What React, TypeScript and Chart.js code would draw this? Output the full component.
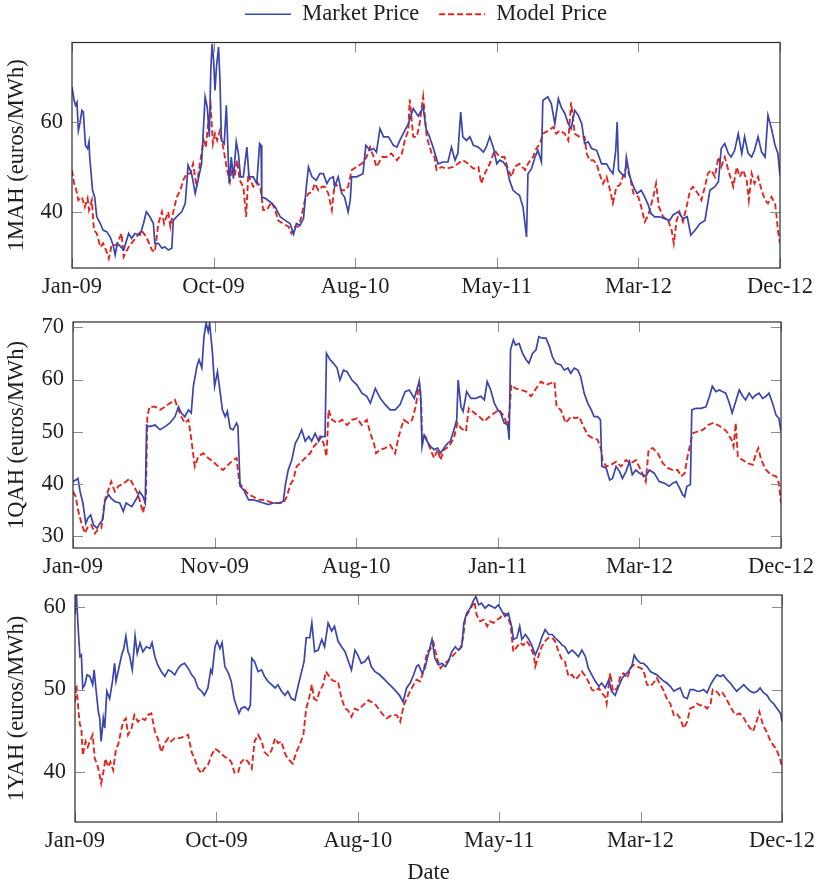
import React, { useEffect, useRef } from 'react';
import { Chart, registerables } from 'chart.js';

Chart.register(...registerables);

// ---------- data (x = trading-day index 0..1000, Jan-09 .. Dec-12) ----------
const X_TICKS = [0, 200, 400, 600, 800, 1000];
const X_LABELS_MAH = ['Jan-09', 'Oct-09', 'Aug-10', 'May-11', 'Mar-12', 'Dec-12'];
const X_LABELS_QAH = ['Jan-09', 'Nov-09', 'Aug-10', 'Jan-11', 'Mar-12', 'Dec-12'];
const X_LABELS_YAH = ['Jan-09', 'Oct-09', 'Aug-10', 'May-11', 'Mar-12', 'Dec-12'];
const Y_TICKS_MAH = [40, 60];
const Y_TICKS_QAH = [30, 40, 50, 60, 70];
const Y_TICKS_YAH = [40, 50, 60];
const SERIES_LABELS = ['Market Price', 'Model Price'];
const Y_TITLES = ['1MAH (euros/MWh)', '1QAH (euros/MWh)', '1YAH (euros/MWh)'];
const X_TITLE = 'Date';

type Pt = [number, number];

const mahMarket: Pt[] = [[0,67.8],[3,64.8],[5,63.7],[7,64.4],[9,58.1],[11,59.6],[14,62.6],[16,62.2],[19,54.8],[22,54.1],[24,55.6],[25,52.2],[29,44.8],[32,43.3],[35,38.9],[40,37.4],[44,35.9],[49,35.6],[54,34.4],[58,32.6],[61,30.4],[64,33.0],[69,32.2],[73,31.5],[80,35.2],[84,34.1],[89,35.2],[96,34.8],[101,37.4],[105,40.0],[110,38.9],[115,37.4],[117,33.0],[122,33.0],[127,31.9],[131,32.2],[136,31.5],[141,31.9],[143,38.1],[150,39.3],[155,40.0],[160,41.9],[164,50.4],[169,48.5],[174,44.1],[178,47.0],[183,50.7],[188,65.6],[191,63.3],[194,56.7],[196,71.5],[198,77.4],[200,73.7],[202,67.0],[204,72.2],[207,76.7],[209,69.3],[211,55.9],[215,55.2],[218,63.7],[222,46.3],[225,52.2],[228,47.4],[232,55.6],[235,53.0],[238,47.8],[242,47.8],[247,54.4],[250,47.8],[256,47.8],[261,46.3],[265,55.2],[267,54.8],[268,43.3],[273,43.0],[280,42.2],[287,41.1],[294,38.9],[301,38.1],[308,37.4],[313,35.0],[317,37.4],[322,37.0],[327,38.5],[331,45.6],[334,50.0],[339,47.8],[345,47.0],[350,48.5],[355,48.5],[360,46.3],[364,47.4],[369,47.8],[371,45.6],[376,47.8],[381,44.1],[385,43.3],[390,40.0],[393,42.6],[395,47.8],[402,47.8],[411,48.5],[415,54.8],[421,53.7],[426,54.1],[430,53.3],[435,58.5],[440,56.7],[447,56.7],[454,54.8],[459,54.4],[463,55.9],[470,58.1],[475,59.6],[482,63.0],[489,61.3],[496,63.3],[500,58.5],[505,56.7],[510,54.4],[517,50.7],[524,51.1],[531,51.1],[536,54.4],[541,51.5],[545,53.0],[549,62.2],[552,56.7],[557,55.9],[562,56.7],[567,54.8],[574,54.4],[581,53.3],[585,54.4],[590,56.7],[595,54.4],[600,50.7],[604,51.5],[609,51.1],[614,50.0],[618,47.0],[623,44.8],[628,44.1],[632,43.7],[637,41.1],[642,34.4],[644,48.5],[649,49.6],[654,52.2],[658,53.7],[663,51.1],[665,64.8],[672,65.6],[677,64.1],[682,59.6],[687,65.2],[691,63.3],[696,61.9],[701,59.6],[705,58.5],[710,62.6],[715,61.5],[720,59.6],[724,55.2],[729,55.6],[734,54.1],[741,53.7],[748,50.7],[755,50.7],[760,49.3],[764,48.5],[768,53.7],[770,60.0],[772,49.3],[776,48.5],[781,47.8],[783,52.2],[788,47.8],[793,45.6],[798,44.1],[804,44.8],[809,43.3],[814,41.5],[818,39.6],[823,38.9],[830,38.9],[837,38.5],[844,38.1],[849,39.3],[856,40.0],[863,38.5],[869,38.9],[874,34.8],[880,35.9],[887,37.4],[894,38.1],[901,44.8],[908,45.6],[913,46.7],[917,54.1],[922,55.2],[927,53.0],[931,52.2],[936,53.7],[941,57.4],[946,53.0],[950,56.7],[955,53.0],[960,52.2],[964,53.7],[969,56.7],[974,53.3],[979,52.2],[983,61.5],[988,58.5],[993,54.8],[997,53.0],[1000,48.1]];

const mahModel: Pt[] = [[0,49.3],[3,46.3],[5,45.6],[9,42.6],[14,43.3],[18,41.1],[22,43.0],[24,40.4],[28,42.6],[31,35.9],[35,35.2],[40,32.2],[44,33.0],[49,31.1],[52,29.6],[56,32.6],[63,32.6],[70,35.2],[73,30.0],[80,32.2],[84,33.0],[91,34.4],[98,35.9],[105,34.4],[113,31.5],[117,31.1],[122,37.4],[127,40.0],[130,37.4],[136,40.0],[139,36.7],[143,40.0],[148,43.3],[153,44.8],[157,47.0],[162,48.5],[167,48.5],[171,50.7],[176,45.6],[181,51.1],[186,55.9],[189,54.4],[193,60.7],[196,63.3],[199,55.2],[202,57.4],[205,55.9],[209,58.1],[213,54.8],[216,52.2],[219,49.3],[223,46.7],[226,50.0],[230,48.1],[233,51.5],[237,47.0],[242,45.6],[246,38.9],[249,48.5],[252,47.0],[256,45.6],[261,46.7],[266,45.6],[270,40.4],[275,40.4],[282,42.2],[287,40.4],[291,38.1],[298,37.4],[306,36.7],[310,35.2],[315,36.7],[320,36.7],[324,38.9],[329,42.6],[334,44.1],[339,44.4],[343,46.3],[348,44.8],[353,45.6],[357,45.6],[362,44.1],[367,40.4],[371,46.3],[376,45.6],[381,44.8],[386,44.8],[390,45.6],[395,49.3],[402,50.0],[409,50.7],[416,52.2],[421,54.4],[426,52.2],[430,50.0],[438,52.2],[444,52.2],[451,53.0],[459,51.5],[466,53.0],[470,55.9],[475,58.1],[477,65.0],[482,56.7],[487,56.7],[491,59.6],[496,65.6],[501,56.7],[508,53.0],[512,52.2],[515,49.3],[522,50.0],[529,49.6],[538,50.0],[545,50.7],[552,51.5],[560,50.7],[567,49.6],[574,50.0],[578,46.3],[583,48.5],[590,50.7],[597,53.7],[604,52.2],[611,52.2],[616,49.3],[621,47.8],[625,50.0],[632,50.7],[640,49.3],[644,50.7],[651,52.2],[656,54.1],[661,55.2],[665,57.4],[673,58.1],[680,58.9],[684,57.4],[689,58.1],[696,57.4],[701,55.9],[705,64.4],[710,57.4],[717,56.7],[724,56.7],[727,53.0],[731,51.5],[736,51.5],[741,50.7],[745,48.5],[750,46.3],[755,47.8],[760,44.8],[764,41.9],[769,45.6],[774,46.0],[778,47.8],[783,50.0],[788,47.8],[793,44.1],[800,43.3],[804,41.1],[809,37.8],[814,39.3],[821,43.3],[825,46.3],[829,41.1],[835,38.9],[842,38.1],[847,35.9],[850,33.0],[854,38.1],[858,40.0],[863,37.8],[868,41.1],[873,44.8],[877,45.6],[884,44.1],[889,42.6],[894,45.6],[898,48.5],[903,49.3],[908,47.8],[913,52.2],[917,50.0],[922,52.2],[927,49.3],[934,45.6],[939,50.0],[943,47.8],[948,49.3],[953,47.0],[956,42.6],[960,48.5],[964,46.3],[969,47.8],[974,44.8],[979,42.6],[983,41.9],[988,43.3],[993,41.9],[995,39.3],[997,35.9],[1000,33.0]];

const qahMarket: Pt[] = [[0,40.5],[4,40.8],[7,41.1],[10,38.6],[14,36.4],[18,32.5],[21,33.5],[25,34.1],[29,32.2],[34,31.6],[38,32.5],[42,33.2],[45,36.7],[50,38.0],[54,37.3],[59,36.7],[66,36.4],[71,34.8],[75,36.4],[83,35.7],[90,37.3],[94,38.6],[99,37.6],[102,36.4],[104,51.3],[108,51.0],[116,51.3],[123,50.4],[130,51.0],[137,51.7],[144,52.9],[149,54.8],[153,53.6],[158,52.9],[163,54.2],[167,53.6],[170,58.7],[175,62.5],[178,63.8],[182,62.2],[185,68.2],[188,70.8],[191,69.2],[193,70.8],[197,65.0],[200,58.7],[204,61.5],[208,57.4],[211,54.2],[215,52.9],[218,53.9],[222,50.7],[226,50.4],[231,51.7],[233,51.0],[236,39.6],[241,38.9],[248,37.0],[255,37.0],[262,36.7],[269,36.4],[276,36.1],[283,36.4],[290,36.4],[297,36.7],[300,39.9],[304,42.7],[309,44.6],[314,47.8],[318,48.8],[323,50.4],[328,48.2],[333,49.1],[337,48.2],[342,49.7],[347,48.2],[351,49.1],[356,49.1],[358,65.0],[363,63.8],[368,63.1],[373,62.2],[377,59.9],[382,61.8],[387,61.5],[394,59.9],[401,59.0],[408,57.4],[415,56.8],[420,55.5],[427,58.3],[434,56.4],[441,55.2],[448,54.2],[455,54.2],[462,55.2],[469,57.7],[475,58.0],[482,56.4],[489,59.6],[491,57.4],[493,47.2],[496,49.4],[500,48.2],[505,47.2],[510,46.6],[515,46.9],[519,45.9],[524,46.9],[529,47.8],[533,48.2],[538,50.4],[542,52.3],[544,59.9],[548,54.8],[551,53.9],[556,57.7],[562,56.4],[569,56.4],[576,56.8],[581,56.1],[585,59.6],[590,58.0],[595,55.5],[600,54.2],[604,53.6],[609,51.7],[614,51.3],[616,48.5],[618,65.7],[622,67.6],[625,66.6],[630,66.9],[635,65.0],[640,63.8],[644,63.1],[649,65.0],[654,65.7],[658,68.2],[663,67.9],[668,67.9],[673,66.3],[677,64.4],[682,63.1],[689,62.8],[694,61.8],[699,62.2],[703,61.2],[708,62.2],[713,61.8],[717,60.6],[722,57.4],[727,55.5],[732,54.2],[736,52.9],[741,52.9],[745,52.3],[747,43.4],[753,43.1],[758,40.8],[762,41.1],[767,43.4],[772,42.4],[776,41.1],[781,42.4],[786,44.3],[790,41.8],[795,42.7],[800,42.1],[805,41.8],[809,41.5],[814,42.7],[821,42.1],[828,40.5],[835,40.2],[842,39.6],[847,40.2],[852,40.5],[857,39.2],[861,38.0],[864,37.6],[867,39.6],[872,39.9],[874,54.2],[880,54.5],[887,54.5],[894,54.8],[899,56.8],[903,58.7],[908,57.7],[913,58.0],[917,57.7],[922,57.4],[927,55.5],[931,53.6],[936,55.8],[941,58.0],[946,56.8],[950,56.1],[955,57.4],[960,56.4],[964,57.0],[969,57.4],[974,56.4],[979,56.8],[983,57.4],[988,55.5],[993,53.2],[997,52.6],[1000,50.1]];

const qahModel: Pt[] = [[0,38.6],[4,37.6],[7,35.1],[12,32.5],[17,30.6],[21,31.9],[26,32.2],[31,30.6],[35,31.3],[40,31.6],[45,37.0],[50,38.9],[54,40.5],[59,38.6],[64,39.6],[68,39.9],[75,40.5],[80,41.1],[85,39.9],[90,38.6],[94,37.0],[99,34.5],[103,37.6],[105,52.9],[108,54.8],[116,54.8],[123,54.2],[130,54.8],[137,55.5],[144,56.1],[149,54.2],[153,52.9],[158,51.7],[163,52.3],[166,49.7],[169,46.6],[172,43.4],[177,45.3],[184,45.9],[191,45.0],[198,44.3],[205,43.4],[212,42.7],[219,43.7],[226,44.6],[231,45.0],[235,40.2],[241,39.2],[248,38.0],[255,37.6],[262,37.0],[269,37.0],[276,36.7],[283,36.4],[290,36.4],[297,36.4],[302,37.6],[307,39.9],[311,40.8],[316,43.4],[321,44.0],[325,44.6],[330,45.3],[335,45.9],[340,47.2],[344,47.8],[349,49.1],[354,47.8],[358,45.3],[361,54.2],[366,52.3],[373,51.7],[380,52.3],[387,51.3],[394,52.3],[401,52.6],[408,51.3],[415,52.3],[420,49.7],[425,47.8],[428,45.9],[434,46.6],[441,46.9],[448,47.5],[455,45.9],[460,49.1],[467,52.3],[474,51.7],[479,52.3],[484,54.8],[489,59.3],[492,54.8],[493,48.5],[498,49.1],[505,46.6],[510,45.0],[515,46.6],[519,44.6],[524,46.6],[531,47.2],[538,48.8],[543,51.7],[548,50.7],[555,50.1],[559,54.5],[567,53.6],[574,52.9],[581,52.0],[588,52.9],[595,53.6],[602,54.2],[609,52.9],[614,51.0],[617,54.8],[619,59.0],[625,58.3],[633,58.0],[640,57.7],[647,56.8],[654,58.3],[661,59.6],[668,59.0],[675,59.3],[680,59.6],[683,54.8],[689,54.2],[696,51.7],[703,52.9],[710,52.6],[715,52.9],[720,51.3],[727,49.4],[734,48.8],[741,48.5],[746,46.6],[748,44.6],[753,43.4],[760,43.7],[767,44.3],[774,43.4],[781,44.6],[788,44.0],[795,44.6],[802,42.7],[809,40.5],[813,46.6],[819,46.9],[826,45.9],[833,44.0],[840,43.1],[847,42.7],[854,42.7],[859,41.5],[864,42.1],[868,45.3],[872,47.8],[875,49.7],[883,50.1],[890,50.4],[897,51.3],[904,51.7],[911,51.3],[918,50.7],[923,50.1],[930,48.5],[933,47.2],[936,51.7],[939,45.3],[946,44.6],[953,44.0],[960,43.7],[965,46.0],[968,46.9],[972,44.6],[979,42.7],[986,41.8],[993,41.5],[997,40.2],[1000,36.4]];

const yahMarket: Pt[] = [[0,59.1],[2,61.5],[5,56.7],[7,54.0],[9,54.2],[11,50.2],[14,50.6],[17,51.8],[21,51.6],[25,50.6],[27,52.4],[30,49.8],[33,47.3],[35,46.5],[37,43.7],[40,46.5],[42,45.3],[45,49.8],[49,48.9],[53,51.0],[56,53.2],[58,51.0],[62,52.6],[66,54.2],[69,55.0],[72,56.5],[75,54.6],[77,54.2],[81,52.4],[85,56.5],[88,54.4],[92,55.7],[96,54.6],[101,55.2],[106,55.0],[109,55.7],[113,54.0],[117,53.0],[122,52.2],[127,51.6],[132,52.4],[136,52.2],[141,51.8],[146,52.6],[150,53.0],[155,53.2],[160,52.6],[165,51.8],[169,51.4],[174,50.2],[179,49.8],[183,49.3],[188,50.2],[192,52.4],[194,52.0],[198,55.2],[201,55.9],[205,55.0],[208,55.7],[212,52.8],[217,52.0],[221,51.0],[225,48.9],[228,48.1],[232,47.1],[235,47.7],[240,47.9],[245,47.5],[248,48.1],[250,53.8],[254,53.4],[259,52.2],[264,52.4],[268,51.6],[273,51.0],[278,50.6],[283,50.2],[287,50.6],[292,49.8],[297,49.3],[301,49.8],[306,48.9],[311,48.7],[316,50.6],[320,52.0],[324,53.4],[327,56.3],[332,56.3],[335,58.1],[339,54.6],[344,54.8],[349,56.1],[353,55.2],[358,58.1],[363,57.1],[367,57.7],[372,55.9],[377,55.2],[382,54.6],[386,53.6],[391,52.4],[396,54.8],[400,54.2],[405,53.2],[410,53.4],[415,54.0],[419,52.8],[424,52.2],[431,51.8],[438,51.2],[445,50.6],[452,50.0],[459,49.3],[464,48.5],[469,50.2],[474,50.8],[479,51.8],[483,52.8],[486,53.0],[491,52.0],[495,52.6],[500,54.4],[505,56.1],[509,53.8],[514,53.0],[519,53.2],[524,52.8],[528,53.4],[533,54.6],[538,55.2],[542,54.8],[547,55.2],[550,58.1],[554,59.3],[559,59.9],[564,60.9],[567,61.3],[571,60.3],[575,60.5],[580,59.9],[585,60.3],[590,60.1],[594,59.9],[599,60.3],[604,59.5],[608,58.9],[613,59.3],[618,57.5],[620,56.1],[625,56.3],[629,57.7],[632,56.1],[637,56.7],[642,56.1],[646,55.4],[651,54.2],[656,55.2],[660,56.3],[665,57.3],[670,56.7],[675,56.7],[679,56.3],[684,55.9],[689,55.4],[693,55.2],[698,54.4],[703,54.8],[708,54.4],[712,54.0],[717,54.8],[722,54.0],[726,52.6],[731,51.8],[736,51.0],[741,50.4],[745,50.8],[750,50.2],[755,51.2],[759,49.8],[764,49.3],[769,50.4],[774,51.4],[778,51.8],[783,52.2],[788,53.0],[791,54.2],[795,53.6],[800,53.2],[804,53.2],[809,52.8],[814,52.2],[818,52.0],[823,51.8],[828,51.4],[833,51.0],[837,50.8],[842,50.4],[847,49.8],[851,50.0],[856,50.2],[861,49.1],[866,48.9],[870,50.0],[875,50.0],[880,49.8],[884,49.8],[889,50.0],[894,49.6],[899,50.6],[903,51.2],[908,51.8],[913,51.6],[917,51.8],[922,51.2],[927,50.8],[932,50.2],[936,49.8],[941,50.2],[946,50.6],[950,50.2],[955,49.8],[960,49.6],[965,49.8],[969,50.2],[974,49.6],[979,49.3],[983,48.7],[988,48.3],[993,47.7],[998,47.1],[1000,46.1]];

const yahModel: Pt[] = [[0,48.5],[2,50.6],[5,47.3],[7,45.7],[9,45.3],[11,42.0],[15,43.7],[18,43.0],[22,43.9],[25,44.5],[28,41.6],[31,41.0],[34,40.0],[37,38.6],[41,40.4],[43,41.6],[47,40.6],[50,41.2],[54,40.2],[58,42.8],[61,43.3],[64,44.5],[68,46.1],[72,46.5],[75,44.5],[80,45.3],[84,46.9],[89,46.1],[94,46.5],[99,46.3],[103,46.9],[108,47.1],[113,44.9],[117,44.1],[122,42.4],[127,43.5],[132,44.1],[136,43.7],[141,44.1],[148,44.1],[155,44.3],[160,44.5],[165,42.4],[169,41.6],[174,40.4],[179,39.8],[183,40.4],[188,40.8],[193,42.0],[198,42.8],[202,42.6],[207,42.2],[212,41.8],[217,41.6],[221,41.2],[226,39.8],[231,40.0],[235,41.2],[240,41.6],[245,41.2],[250,40.4],[254,43.7],[259,44.5],[264,43.7],[268,42.4],[273,42.0],[278,42.6],[283,44.1],[287,43.5],[292,43.7],[297,42.2],[301,41.6],[308,41.0],[313,42.4],[318,43.3],[323,44.5],[327,47.7],[331,48.9],[335,50.6],[338,48.9],[342,48.7],[346,49.8],[351,50.6],[355,52.2],[358,51.8],[363,51.2],[367,51.0],[372,51.0],[377,48.9],[382,47.7],[386,47.5],[391,46.7],[396,47.7],[400,47.5],[405,47.9],[410,48.3],[415,48.7],[419,48.5],[424,48.3],[429,47.7],[434,47.1],[441,46.5],[448,46.9],[455,46.9],[460,46.1],[465,48.1],[469,48.9],[474,49.8],[479,50.6],[483,51.2],[488,51.0],[493,52.2],[498,54.6],[502,54.8],[507,55.7],[512,53.8],[517,52.6],[521,53.0],[526,53.4],[531,53.8],[535,54.2],[540,54.6],[545,55.0],[549,56.3],[552,58.7],[557,59.5],[561,60.1],[565,60.7],[568,59.1],[573,58.3],[578,58.5],[583,57.7],[587,58.3],[592,58.1],[597,58.5],[601,58.7],[606,59.3],[611,59.1],[616,57.9],[620,54.6],[625,55.2],[630,55.7],[634,55.4],[639,55.9],[644,55.2],[649,54.2],[651,52.8],[656,54.2],[660,55.2],[665,55.9],[670,56.3],[675,56.3],[679,55.9],[684,54.6],[689,53.6],[693,53.4],[698,51.6],[703,51.8],[708,51.2],[712,51.6],[717,52.2],[722,51.6],[726,51.0],[731,50.0],[736,49.8],[741,50.2],[745,49.6],[750,49.1],[752,48.3],[757,52.0],[761,49.8],[767,50.2],[772,51.8],[776,52.0],[781,51.4],[786,52.6],[790,53.0],[795,52.8],[800,52.6],[804,52.4],[809,50.6],[814,50.4],[818,50.8],[823,51.4],[828,50.6],[833,49.8],[837,48.9],[842,48.3],[847,46.9],[851,47.1],[856,46.5],[861,45.3],[866,46.1],[870,47.7],[875,47.9],[880,48.3],[884,48.1],[889,48.1],[894,47.7],[899,48.3],[902,50.0],[907,49.8],[912,49.3],[916,49.6],[921,48.9],[926,48.1],[931,47.3],[935,46.9],[940,47.1],[945,46.7],[950,45.9],[955,45.3],[959,44.9],[964,46.1],[968,47.3],[973,45.7],[978,44.9],[983,43.9],[987,43.3],[992,42.8],[997,41.6],[1000,40.6]];

// ---------- styling ----------
const W = 817;
const FONT = "'Liberation Serif', 'Times New Roman', Times, serif";
const FONT_SIZE = 22.5;
const TEXT = '#1e1e1e';
const BLUE = '#3a45ad';
const RED = '#e2261f';
const FRAME = '#2a2a2a';
const TICK = '#8c8c8c';

const framePlugin = {
  id: 'frame',
  afterDatasetsDraw(chart: any) {
    const { ctx, chartArea: a, scales } = chart;
    const x = scales.x;
    const y = scales.y;
    const tl = 10;
    ctx.save();
    ctx.lineWidth = 1;
    ctx.strokeStyle = TICK;
    ctx.beginPath();
    x.ticks.forEach((t: any) => {
      const px = Math.round(x.getPixelForValue(t.value)) + 0.5;
      ctx.moveTo(px, a.bottom);
      ctx.lineTo(px, a.bottom - tl);
      ctx.moveTo(px, a.top);
      ctx.lineTo(px, a.top + tl);
    });
    y.ticks.forEach((t: any) => {
      const py = Math.round(y.getPixelForValue(t.value)) + 0.5;
      ctx.moveTo(a.left, py);
      ctx.lineTo(a.left + tl, py);
      ctx.moveTo(a.right, py);
      ctx.lineTo(a.right - tl, py);
    });
    ctx.stroke();
    ctx.strokeStyle = FRAME;
    ctx.lineWidth = 1.2;
    ctx.strokeRect(a.left, a.top, a.right - a.left, a.bottom - a.top);
    ctx.restore();
  },
};

const legendNudge = {
  id: 'legendNudge',
  afterLayout(chart: any) {
    const lg = chart.legend;
    if (lg) {
      lg.top -= 7;
      lg.bottom -= 7;
    }
  },
};

type PanelProps = {
  market: Pt[];
  model: Pt[];
  yTitle: string;
  yMin: number;
  yMax: number;
  yTicks: number[];
  xLabels: string[];
  xTitle?: string;
  legend?: boolean;
  top: number;
  height: number;
  left: number;
  right: number;
  padTop: number;
  xHeight: number;
};

function Panel(p: PanelProps) {
  const ref = useRef<HTMLCanvasElement>(null);
  useEffect(() => {
    const canvas = ref.current;
    if (!canvas) return;
    const font = { family: FONT, size: FONT_SIZE };
    const chart = new Chart(canvas, {
      type: 'line',
      data: {
        datasets: [
          {
            label: SERIES_LABELS[0],
            data: p.market.map(([x, y]) => ({ x, y })),
            borderColor: BLUE,
            backgroundColor: BLUE,
            borderWidth: 1.7,
            pointRadius: 0,
            tension: 0,
            fill: false,
          },
          {
            label: SERIES_LABELS[1],
            data: p.model.map(([x, y]) => ({ x, y })),
            borderColor: RED,
            backgroundColor: RED,
            borderWidth: 1.9,
            borderDash: [6, 3],
            pointRadius: 0,
            tension: 0,
            fill: false,
          },
        ],
      },
      options: {
        responsive: false,
        animation: false,
        events: [],
        layout: { padding: { left: 0, right: W - p.right, top: p.padTop, bottom: 0 } },
        plugins: {
          legend: p.legend
            ? {
                display: true,
                position: 'top',
                fullSize: false,
                labels: {
                  usePointStyle: true,
                  pointStyle: 'line',
                  pointStyleWidth: 46,
                  padding: 20,
                  color: TEXT,
                  font,
                  generateLabels: (c: any) => {
                    const items = (Chart.defaults as any).plugins.legend.labels.generateLabels(c);
                    items.forEach((it: any) => {
                      const ds = c.data.datasets[it.datasetIndex];
                      it.lineDash = ds.borderDash || [];
                      it.strokeStyle = ds.borderColor;
                      it.fillStyle = ds.borderColor;
                      it.lineWidth = ds.borderWidth;
                      it.pointStyle = 'line';
                    });
                    return items;
                  },
                },
              }
            : { display: false },
          tooltip: { enabled: false },
        },
        scales: {
          x: {
            type: 'linear',
            min: 0,
            max: 1000,
            grid: { display: false, drawTicks: false },
            border: { display: false },
            afterBuildTicks: (s: any) => {
              s.ticks = X_TICKS.map((v) => ({ value: v }));
            },
            afterFit: (s: any) => {
              s.height = p.xHeight;
              s.paddingLeft = 0;
              s.paddingRight = 0;
            },
            ticks: {
              autoSkip: false,
              maxRotation: 0,
              minRotation: 0,
              padding: 6,
              color: TEXT,
              font,
              callback: (_v: any, i: number) => p.xLabels[i],
            },
            title: p.xTitle
              ? { display: true, text: p.xTitle, color: TEXT, font, padding: { top: 0, bottom: 0 } }
              : { display: false },
          },
          y: {
            type: 'linear',
            min: p.yMin,
            max: p.yMax,
            grid: { display: false, drawTicks: false },
            border: { display: false },
            afterBuildTicks: (s: any) => {
              s.ticks = p.yTicks.map((v) => ({ value: v }));
            },
            afterFit: (s: any) => {
              s.width = p.left;
              s.paddingTop = 0;
              s.paddingBottom = 0;
            },
            ticks: { padding: 9, color: TEXT, font },
            title: { display: true, text: p.yTitle, color: TEXT, font, padding: { top: 4, bottom: 4 } },
          },
        },
      } as any,
      plugins: p.legend ? [framePlugin, legendNudge] : [framePlugin],
    });
    return () => chart.destroy();
  }, []);
  return (
    <canvas
      ref={ref}
      width={W}
      height={p.height}
      style={{ position: 'absolute', left: 0, top: p.top, width: W, height: p.height }}
    />
  );
}

export default function App() {
  return (
    <div style={{ position: 'absolute', left: 0, top: 0, width: W, height: 887, background: '#fff' }}>
      <Panel
        market={mahMarket}
        model={mahModel}
        yTitle={Y_TITLES[0]}
        yMin={27.5}
        yMax={77.7}
        yTicks={Y_TICKS_MAH}
        xLabels={X_LABELS_MAH}
        legend
        top={0}
        height={300}
        left={72}
        right={780}
        padTop={-10}
        xHeight={32}
      />
      <Panel
        market={qahMarket}
        model={qahModel}
        yTitle={Y_TITLES[1]}
        yMin={27.8}
        yMax={71.0}
        yTicks={Y_TICKS_QAH}
        xLabels={X_LABELS_QAH}
        top={300}
        height={278}
        left={73}
        right={781}
        padTop={22}
        xHeight={30}
      />
      <Panel
        market={yahMarket}
        model={yahModel}
        yTitle={Y_TITLES[2]}
        yMin={33.9}
        yMax={61.5}
        yTicks={Y_TICKS_YAH}
        xLabels={X_LABELS_YAH}
        xTitle={X_TITLE}
        top={578}
        height={309}
        left={75}
        right={782}
        padTop={17}
        xHeight={65}
      />
    </div>
  );
}
